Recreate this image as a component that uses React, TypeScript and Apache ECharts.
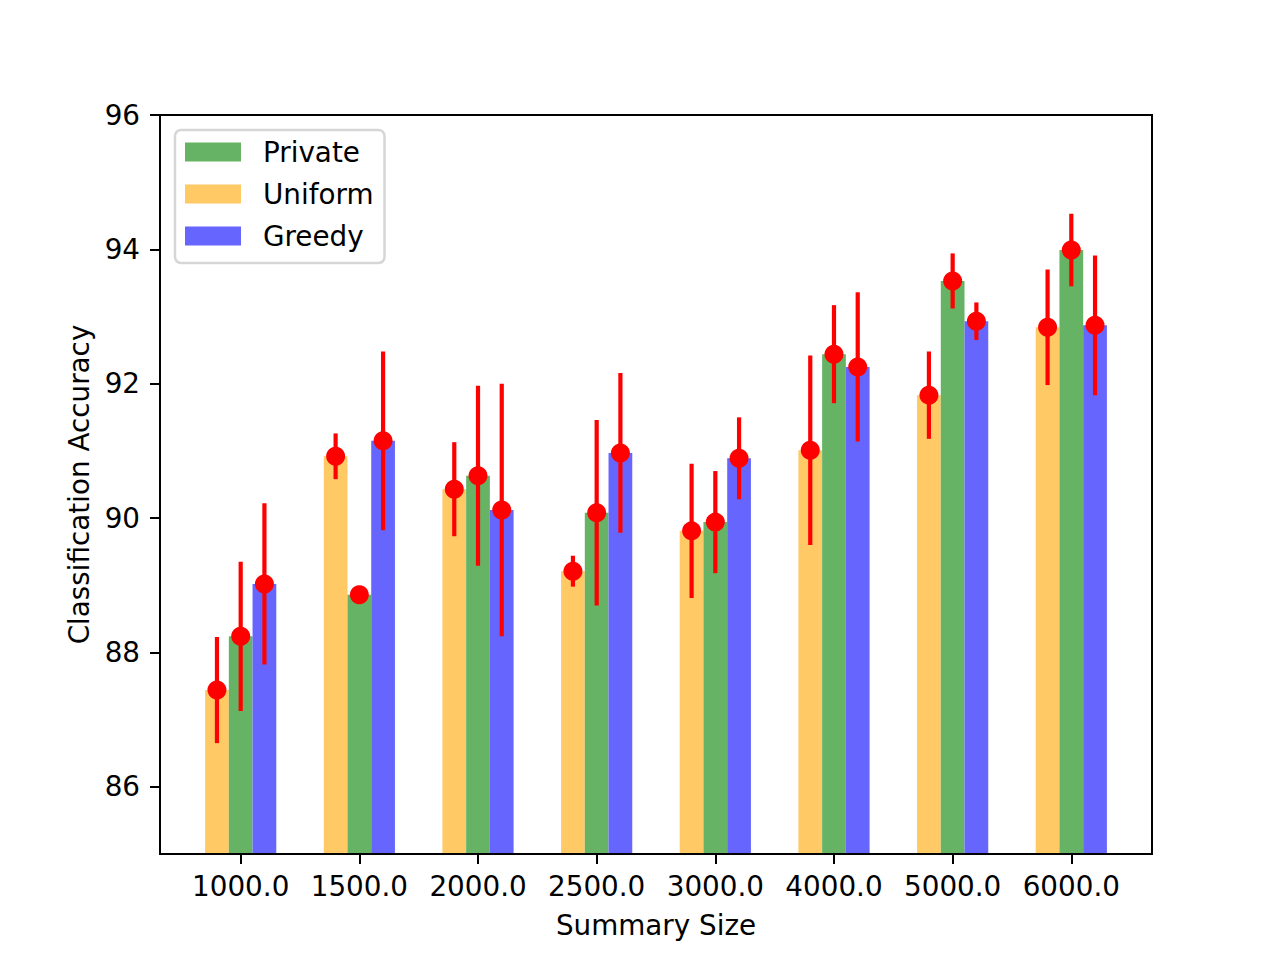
import React, { useEffect, useRef } from "react";
import * as echarts from "echarts";

const categories = ["1000.0", "1500.0", "2000.0", "2500.0", "3000.0", "4000.0", "5000.0", "6000.0"];
const uniformVals = [87.44, 90.92, 90.43, 89.21, 89.81, 91.01, 91.83, 92.84];
const uniformErr = [0.79, 0.34, 0.70, 0.23, 1.0, 1.41, 0.65, 0.86];
const privateVals = [88.24, 88.86, 90.63, 90.08, 89.94, 92.44, 93.53, 93.99];
const privateErr = [1.11, 0.13, 1.34, 1.38, 0.76, 0.73, 0.41, 0.54];
const greedyVals = [89.02, 91.15, 90.12, 90.97, 90.89, 92.25, 92.93, 92.87];
const greedyErr = [1.2, 1.33, 1.88, 1.19, 0.61, 1.11, 0.28, 1.04];
const yTicks = [86, 88, 90, 92, 94, 96];

const FONT = "DejaVu Sans";
const FS = 27.8;
const Y_MIN = 85;
const Y_MAX = 96;
const X_MIN = -0.68;
const X_MAX = 7.68;
const BAR_W = 0.2;

type Grp = { name: string; vals: number[]; err: number[]; off: number; color: string };

const groups: Grp[] = [
  { name: "Uniform", vals: uniformVals, err: uniformErr, off: -0.2, color: "#FFC966" },
  { name: "Private", vals: privateVals, err: privateErr, off: 0, color: "#66B366" },
  { name: "Greedy", vals: greedyVals, err: greedyErr, off: 0.2, color: "#6666FF" },
];

export default function App() {
  const ref = useRef<HTMLDivElement>(null);
  useEffect(() => {
    const chart = echarts.init(ref.current!, null, { renderer: "svg" });
    const barSeries = groups.map((g) => ({
      type: "custom",
      name: g.name,
      itemStyle: { color: g.color },
      data: g.vals.map((v, i) => [i, v]),
      z: 2,
      renderItem: (params: any, api: any) => {
        const x = api.value(0);
        const v = api.value(1);
        const p1 = api.coord([x + g.off - BAR_W / 2, v]);
        const p2 = api.coord([x + g.off + BAR_W / 2, Y_MIN]);
        return {
          type: "rect",
          shape: { x: p1[0], y: p1[1], width: p2[0] - p1[0], height: p2[1] - p1[1] },
          style: { fill: g.color },
        };
      },
    }));
    const errSeries = groups.map((g) => ({
      type: "custom",
      name: g.name + " err",
      data: g.vals.map((v, i) => [i + g.off, v, g.err[i]]),
      z: 3,
      renderItem: (params: any, api: any) => {
        const x = api.value(0);
        const v = api.value(1);
        const e = api.value(2);
        const a = api.coord([x, v - e]);
        const b = api.coord([x, v + e]);
        return {
          type: "line",
          shape: { x1: a[0], y1: a[1], x2: b[0], y2: b[1] },
          style: { stroke: "#ff0000", lineWidth: 4.2 },
        };
      },
    }));
    const dotSeries = groups.map((g) => ({
      type: "scatter",
      name: g.name + " mean",
      data: g.vals.map((v, i) => [i + g.off, v]),
      symbol: "circle",
      symbolSize: 19,
      itemStyle: { color: "#ff0000", opacity: 1 },
      z: 4,
      silent: true,
    }));

    const option: any = {
      animation: false,
      backgroundColor: "#ffffff",
      textStyle: { fontFamily: FONT },
      grid: {
        left: 160,
        right: 128,
        top: 115,
        bottom: 106,
        show: true,
        borderColor: "#000",
        borderWidth: 2,
        backgroundColor: "transparent",
        z: 10,
      },
      legend: {
        data: ["Private", "Uniform", "Greedy"],
        orient: "vertical",
        left: 175,
        top: 130,
        icon: "rect",
        itemWidth: 56,
        itemHeight: 19,
        itemGap: 14,
        padding: [8, 11, 13, 10],
        backgroundColor: "#ffffff",
        borderColor: "#d6d6d6",
        borderWidth: 2.5,
        borderRadius: 6,
        textStyle: { fontFamily: FONT, fontSize: FS, color: "#000", padding: [0, 0, 0, 17] },
        z: 20,
      },
      xAxis: {
        type: "value",
        min: X_MIN,
        max: X_MAX,
        name: "Summary Size",
        nameLocation: "middle",
        nameGap: 57,
        nameTextStyle: { fontFamily: FONT, fontSize: FS, color: "#000" },
        axisLine: { show: true, onZero: false, lineStyle: { color: "#000", width: 2 } },
        axisTick: {
          show: true,
          inside: false,
          length: 10,
          lineStyle: { color: "#000", width: 2 },
          customValues: categories.map((_, i) => i),
        },
        axisLabel: {
          show: true,
          margin: 18,
          fontFamily: FONT,
          fontSize: FS,
          color: "#000",
          customValues: categories.map((_, i) => i),
          formatter: (v: number) => categories[Math.round(v)] ?? "",
        },
        splitLine: { show: false },
      },
      yAxis: {
        type: "value",
        min: Y_MIN,
        max: Y_MAX,
        name: "Classification Accuracy",
        nameLocation: "middle",
        nameRotate: 90,
        nameGap: 67,
        nameTextStyle: { fontFamily: FONT, fontSize: FS, color: "#000" },
        axisLine: { show: true, onZero: false, lineStyle: { color: "#000", width: 2 } },
        axisTick: {
          show: true,
          inside: false,
          length: 10,
          lineStyle: { color: "#000", width: 2 },
          customValues: yTicks,
        },
        axisLabel: {
          show: true,
          margin: 20,
          fontFamily: FONT,
          fontSize: FS,
          color: "#000",
          customValues: yTicks,
          formatter: (v: number) => String(v),
        },
        splitLine: { show: false },
      },
      series: [...barSeries, ...errSeries, ...dotSeries],
    };
    chart.setOption(option);
    return () => chart.dispose();
  }, []);
  return (
    <div
      ref={ref}
      style={{ position: "fixed", left: 0, top: 0, width: 1280, height: 960, background: "#fff" }}
    />
  );
}
